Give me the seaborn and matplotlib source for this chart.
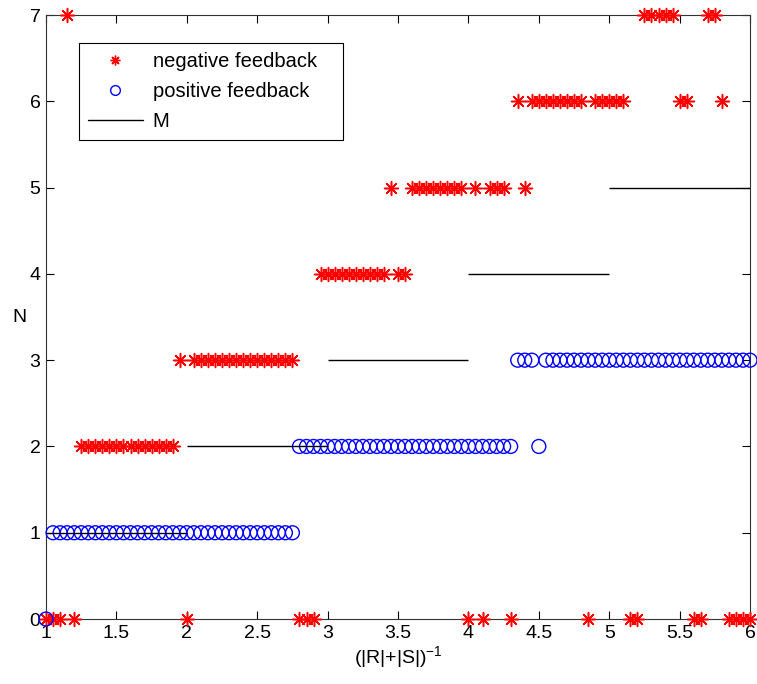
import pandas as pd
import matplotlib
matplotlib.use('Agg')
import matplotlib.pyplot as plt
import seaborn as sns
from matplotlib.lines import Line2D

# negative feedback: x positions grouped by N level
neg_x_n0 = [1.0, 1.05, 1.1, 1.2, 2.0, 2.8, 2.85, 2.9, 4.0, 4.1, 4.3, 4.85,
            5.15, 5.2, 5.6, 5.65, 5.85, 5.9, 5.95, 6.0]
neg_x_n2 = [1.25, 1.3, 1.35, 1.4, 1.45, 1.5, 1.55, 1.6, 1.65, 1.7, 1.75, 1.8,
            1.85, 1.9]
neg_x_n3 = [1.95, 2.05, 2.1, 2.15, 2.2, 2.25, 2.3, 2.35, 2.4, 2.45, 2.5, 2.55,
            2.6, 2.65, 2.7, 2.75]
neg_x_n4 = [2.95, 3.0, 3.05, 3.1, 3.15, 3.2, 3.25, 3.3, 3.35, 3.4, 3.5, 3.55]
neg_x_n5 = [3.45, 3.6, 3.65, 3.7, 3.75, 3.8, 3.85, 3.9, 3.95, 4.05, 4.15, 4.2,
            4.25, 4.4]
neg_x_n6 = [4.35, 4.45, 4.5, 4.55, 4.6, 4.65, 4.7, 4.75, 4.8, 4.9, 4.95, 5.0,
            5.05, 5.1, 5.5, 5.55, 5.8]
neg_x_n7 = [1.15, 5.25, 5.3, 5.35, 5.4, 5.45, 5.7, 5.75]

# positive feedback
pos_x_n0 = [1.0]
pos_x_n1 = [1.05, 1.1, 1.15, 1.2, 1.25, 1.3, 1.35, 1.4, 1.45, 1.5, 1.55, 1.6,
            1.65, 1.7, 1.75, 1.8, 1.85, 1.9, 1.95, 2.0, 2.05, 2.1, 2.15, 2.2,
            2.25, 2.3, 2.35, 2.4, 2.45, 2.5, 2.55, 2.6, 2.65, 2.7, 2.75]
pos_x_n2 = [2.8, 2.85, 2.9, 2.95, 3.0, 3.05, 3.1, 3.15, 3.2, 3.25, 3.3, 3.35,
            3.4, 3.45, 3.5, 3.55, 3.6, 3.65, 3.7, 3.75, 3.8, 3.85, 3.9, 3.95,
            4.0, 4.05, 4.1, 4.15, 4.2, 4.25, 4.3, 4.5]
pos_x_n3 = [4.35, 4.4, 4.45, 4.55, 4.6, 4.65, 4.7, 4.75, 4.8, 4.85, 4.9, 4.95,
            5.0, 5.05, 5.1, 5.15, 5.2, 5.25, 5.3, 5.35, 5.4, 5.45, 5.5, 5.55,
            5.6, 5.65, 5.7, 5.75, 5.8, 5.85, 5.9, 5.95, 6.0]

# M step segments
m_start = [1, 2, 3, 4, 5]
m_end = [2, 3, 4, 5, 6]
m_level = [1, 2, 3, 4, 5]

x_ticks = [1, 1.5, 2, 2.5, 3, 3.5, 4, 4.5, 5, 5.5, 6]
x_tick_labels = ['1', '1.5', '2', '2.5', '3', '3.5', '4', '4.5', '5', '5.5', '6']
y_ticks = [0, 1, 2, 3, 4, 5, 6, 7]
legend_labels = ['negative feedback', 'positive feedback', 'M']


def build_frame(groups):
    rows = []
    for level, xs in groups:
        for x in xs:
            rows.append({'x': x, 'N': level})
    return pd.DataFrame(rows)


neg_df = build_frame([(0, neg_x_n0), (2, neg_x_n2), (3, neg_x_n3), (4, neg_x_n4),
                      (5, neg_x_n5), (6, neg_x_n6), (7, neg_x_n7)])
pos_df = build_frame([(0, pos_x_n0), (1, pos_x_n1), (2, pos_x_n2), (3, pos_x_n3)])

sns.set_style('ticks')
plt.rcParams['font.family'] = ['Liberation Sans', 'DejaVu Sans']
plt.rcParams['mathtext.fontset'] = 'custom'
plt.rcParams['mathtext.rm'] = 'Liberation Sans'
plt.rcParams['mathtext.it'] = 'Liberation Sans'
plt.rcParams['text.color'] = 'black'
plt.rcParams['axes.labelcolor'] = 'black'

fig = plt.figure(figsize=(7.57, 6.84), dpi=100)
ax = fig.add_axes([0.0608, 0.095, 0.93, 0.883])

star = (8, 2, 0)
sns.scatterplot(data=neg_df, x='x', y='N', marker=star, color='#ff0000',
                s=100, linewidth=1.1, ax=ax, clip_on=False, zorder=3, legend=False)
sns.scatterplot(data=pos_df, x='x', y='N', marker='o', facecolor='none',
                edgecolor='#0000ff', s=100, linewidth=1.0, ax=ax, clip_on=False,
                zorder=3, legend=False)
ax.hlines(m_level, m_start, m_end, colors='black', linewidth=1.0, zorder=4)

ax.set_xlim(1, 6)
ax.set_ylim(0, 7)
ax.set_xticks(x_ticks)
ax.set_xticklabels(x_tick_labels)
ax.set_yticks(y_ticks)
ax.tick_params(direction='in', length=6, width=0.8, top=True, right=True,
               labelsize=14, colors='black', pad=4)
for sp in ax.spines.values():
    sp.set_visible(True)
    sp.set_linewidth(0.8)
    sp.set_color('#333333')

ax.set_xlabel(r'(|R|+|S|)$^{-1}$', fontsize=14, labelpad=2)
ax.set_ylabel('N', fontsize=14, rotation=0, labelpad=7, va='center')

handles = [
    Line2D([], [], linestyle='none', marker=star, color='#ff0000',
           markersize=7, markeredgewidth=1.0),
    Line2D([], [], linestyle='none', marker='o', markerfacecolor='none',
           markeredgecolor='#0000ff', markersize=7, markeredgewidth=1.0),
    Line2D([], [], color='black', linewidth=1.0),
]
leg = ax.legend(handles, legend_labels, loc='upper left',
                bbox_to_anchor=(0.047, 0.5, 0.375, 0.454), mode='expand',
                borderaxespad=0, fontsize=14.5, handlelength=2.7,
                fancybox=False, framealpha=1, edgecolor='black',
                borderpad=0.45, labelspacing=0.55, handletextpad=0.5)
leg.get_frame().set_linewidth(0.8)

fig.savefig('out.png', dpi=100, facecolor='white')
